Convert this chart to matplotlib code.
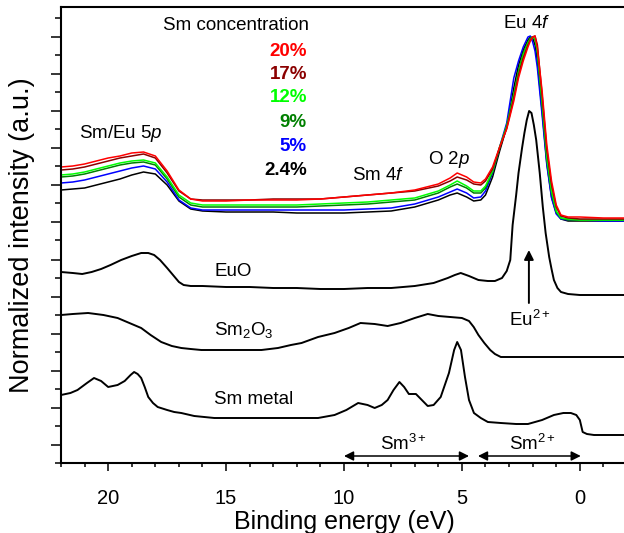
import matplotlib
matplotlib.use("Agg")
import matplotlib.pyplot as plt
from matplotlib.ticker import FixedLocator, MultipleLocator

plt.rcParams['font.family'] = ['Liberation Sans', 'DejaVu Sans']
plt.rcParams['mathtext.fontset'] = 'custom'
plt.rcParams['mathtext.rm'] = 'Liberation Sans'
plt.rcParams['mathtext.it'] = 'Liberation Sans:italic'
plt.rcParams['mathtext.bf'] = 'Liberation Sans:bold'
plt.rcParams['mathtext.default'] = 'regular'

# ---------------- data ----------------
top_x = [22, 21.5, 21, 20.5, 20, 19.5, 19, 18.5, 18, 17.5, 17, 16.5, 16, 15, 14, 13, 12, 11, 10, 9,
         8, 7, 6, 5.5, 5.2, 4.8, 4.5, 4.2, 4.0, 3.7, 3.4, 3.1, 2.8, 2.6, 2.4, 2.2, 2.1, 2.0, 1.9, 1.8,
         1.6, 1.4, 1.2, 1.0, 0.8, 0.5, 0, -1, -2]

sm20 = [296, 297, 299, 302, 305, 307, 310, 311, 307, 292, 273, 264, 262, 262, 263, 263, 263, 264, 266, 268,
        270, 273, 279, 285, 290, 286, 281, 280, 284, 296, 316, 334, 362, 385, 402, 416, 422, 426, 427, 415,
        372, 318, 282, 258, 248, 246, 246, 245, 245]
sm17 = [293, 294, 296, 299, 302, 305, 307, 309, 305, 290, 272, 264, 263, 263, 263, 264, 264, 264, 266, 268,
        270, 272, 277, 282, 286, 283, 279, 278, 282, 294, 315, 335, 365, 388, 405, 418, 423, 426, 427, 418,
        368, 313, 278, 256, 247, 245, 244, 244, 244]
sm12 = [288, 289, 291, 294, 297, 300, 302, 303, 300, 286, 268, 260, 258, 258, 258, 258, 258, 259, 260, 261,
        263, 265, 272, 278, 282, 277, 272, 272, 277, 292, 316, 337, 368, 390, 408, 420, 424, 426, 424, 412,
        362, 306, 272, 252, 245, 244, 243, 243, 243]
sm9 = [286, 287, 289, 292, 295, 298, 300, 301, 298, 284, 266, 258, 256, 256, 256, 256, 256, 257, 258, 259,
       261, 263, 270, 276, 279, 275, 270, 270, 275, 291, 315, 337, 369, 392, 410, 421, 425, 426, 423, 410,
       358, 303, 270, 251, 245, 243, 243, 243, 243]
sm5 = [280, 281, 283, 286, 289, 292, 295, 297, 294, 281, 263, 255, 253, 253, 253, 253, 253, 253, 253, 254,
       255, 259, 266, 271, 274, 270, 265, 266, 272, 290, 316, 340, 385, 402, 416, 426, 427, 421, 412, 395,
       348, 298, 265, 249, 244, 243, 243, 242, 242]
sm24 = [273, 274, 275, 278, 281, 284, 288, 291, 289, 278, 262, 254, 252, 251, 251, 251, 250, 250, 250, 251,
        252, 256, 263, 268, 270, 266, 262, 263, 268, 286, 312, 336, 375, 398, 413, 423, 426, 425, 418, 402,
        352, 300, 266, 250, 244, 242, 242, 242, 242]

conc_labels = ['20%', '17%', '12%', '9%', '5%', '2.4%']
conc_colors = ['#ff0000', '#8b0000', '#00ff00', '#008000', '#0000ff', '#000000']

euo_x = [22, 21.5, 21.1, 20.7, 20.3, 19.9, 19.45, 19.0, 18.6, 18.3, 18.05, 17.8, 17.5, 17.25, 17.0, 16.8,
         16.5, 16.0, 15, 14, 13, 12, 11, 10, 9, 8, 7, 6.2, 5.6, 5.3, 5.05, 4.7, 4.3, 3.9, 3.6, 3.3, 3.1,
         2.95, 2.85, 2.7, 2.6, 2.45, 2.35, 2.25, 2.15, 2.05, 1.95, 1.85, 1.7, 1.57, 1.45, 1.3, 1.2, 1.1,
         0.95, 0.8, 0.5, 0, -1, -2]
euo_y = [191, 190, 189, 191, 194, 198, 203, 207, 210, 210, 208, 203, 195, 188, 181, 178,
         177, 177, 176, 176, 175, 175, 174, 174, 175, 175, 177, 180, 185, 188, 190, 187, 183, 182, 182, 185, 192,
         203, 238, 268, 290, 315, 330, 343, 352, 350, 338, 323, 290, 256, 230, 206, 194, 183,
         175, 171, 169, 168, 168, 168]

sm2o3_x = [22, 21.5, 20.85, 20.2, 19.6, 19.1, 18.6, 18.2, 17.75, 17.3, 16.9, 16.5, 16.05, 15, 14, 13.5,
           12.8, 12.25, 11.8, 11.1, 10.4, 9.8, 9.3, 8.7, 8.15, 7.6, 7.0, 6.45, 6.0, 5.5, 5.0, 4.7, 4.5,
           4.3, 4.05, 3.8, 3.6, 3.35, 3.0, 2, 1, 0, -1, -2]
sm2o3_y = [148, 149, 150, 148, 145, 140, 135, 128, 121, 117, 115, 114, 113, 113, 113, 113,
           115, 118, 120, 126, 130, 135, 140, 139, 137, 140, 145, 149, 147, 146, 145, 142, 136,
           128, 120, 113, 109, 106, 106, 106, 106, 106, 106, 106]

smm_x = [22, 21.6, 21.3, 20.9, 20.6, 20.3, 20.0, 19.6, 19.3, 19.05, 18.9, 18.75, 18.6, 18.45, 18.3, 18.1,
         17.9, 17.5, 17.2, 16.9, 16.35, 15.5, 14, 12, 11.1, 10.4, 9.9, 9.4, 9.0, 8.7, 8.4, 8.15, 7.9,
         7.65, 7.45, 7.25, 6.95, 6.7, 6.45, 6.2, 5.9, 5.55, 5.33, 5.2, 5.04, 4.87, 4.7, 4.49, 4.2, 3.9,
         3.35, 2.7, 2.2, 1.6, 1.1, 0.7, 0.38, 0.15, 0.0, -0.12, -0.3, -0.6, -1, -2]
smm_y = [68, 70, 73, 80, 85, 82, 76, 78, 82, 88, 91, 89, 85, 76, 66, 60,
         56, 53, 51, 50, 47, 45, 45, 45, 45, 48, 53, 60, 58, 55, 58, 63, 73,
         81, 76, 69, 69, 63, 57, 58, 66, 90, 113, 121, 113, 86, 63, 50, 45, 41,
         40, 39, 39, 43, 48, 50, 50, 48, 43, 31, 29, 28, 28, 28]

# ---------------- figure ----------------
fig = plt.figure(figsize=(6.24, 5.33), dpi=100)
ax = fig.add_axes([61 / 624, 70 / 533, 566 / 624, 456 / 533])

top_series = [sm20, sm17, sm12, sm9, sm5, sm24]
for ys, col in reversed(list(zip(top_series, conc_colors))):
    ax.plot(top_x, ys, color=col, lw=1.1)

for xs, ys in [(euo_x, euo_y), (sm2o3_x, sm2o3_y), (smm_x, smm_y)]:
    ax.plot(xs, ys, color='black', lw=1.4)

ax.set_xlim(22, -2)
ax.set_ylim(0, 456)

ax.xaxis.set_major_locator(FixedLocator([20, 15, 10, 5, 0]))
ax.xaxis.set_minor_locator(MultipleLocator(1))
ax.yaxis.set_major_locator(FixedLocator([18 + 37.1 * k for k in range(12)]))
ax.yaxis.set_minor_locator(FixedLocator([37.1 * k for k in range(13)]))
ax.set_yticklabels([])

ax.tick_params(axis='x', which='major', direction='out', length=5.5, width=1.1, labelsize=14.5, pad=13)
ax.tick_params(axis='x', which='minor', direction='out', length=3.2, width=1.1)
ax.tick_params(axis='y', which='major', direction='out', length=7.2, width=1.1)
ax.tick_params(axis='y', which='minor', direction='out', length=4.3, width=1.1)
ax.tick_params(top=False, right=False, which='both')
for sp in ax.spines.values():
    sp.set_linewidth(1.5)

ax.set_xlabel('Binding energy (eV)', fontsize=18, labelpad=2)
ax.set_ylabel('Normalized intensity (a.u.)', fontsize=19.5, labelpad=8)

fs = 13.5
ax.text(14.58, 437, 'Sm concentration', fontsize=fs, ha='center', va='center')
for lab, col, yy in zip(conc_labels, conc_colors, [412, 388.5, 365, 340.5, 316.5, 292.5]):
    ax.text(11.57, yy, lab, fontsize=fs, ha='right', va='center', color=col, fontweight='bold')

ax.text(19.45, 330, 'Sm/Eu 5$\\it{p}$', fontsize=fs, ha='center', va='center')
ax.text(8.56, 288, 'Sm 4$\\it{f}$', fontsize=fs, ha='center', va='center')
ax.text(5.55, 304, 'O 2$\\it{p}$', fontsize=fs, ha='center', va='center')
ax.text(2.25, 439, 'Eu 4$\\it{f}$', fontsize=fs, ha='center', va='center')
ax.text(15.5, 191.5, 'EuO', fontsize=fs, ha='left', va='center')
ax.text(15.5, 133, 'Sm$_2$O$_3$', fontsize=fs, ha='left', va='center')
ax.text(15.5, 63, 'Sm metal', fontsize=fs, ha='left', va='center')
ax.text(2.12, 143, 'Eu$^{2+}$', fontsize=fs, ha='center', va='center')
ax.text(7.46, 19, 'Sm$^{3+}$', fontsize=fs, ha='center', va='center')
ax.text(1.99, 19, 'Sm$^{2+}$', fontsize=fs, ha='center', va='center')

ax.annotate('', xy=(2.16, 213), xytext=(2.16, 160),
            arrowprops=dict(arrowstyle='-|>', color='black', lw=1.4, mutation_scale=14,
                            shrinkA=0, shrinkB=0))
ax.annotate('', xy=(4.7, 7), xytext=(10.0, 7),
            arrowprops=dict(arrowstyle='<|-|>', color='black', lw=1.1, mutation_scale=14,
                            shrinkA=0, shrinkB=0))
ax.annotate('', xy=(-0.04, 7), xytext=(4.32, 7),
            arrowprops=dict(arrowstyle='<|-|>', color='black', lw=1.1, mutation_scale=14,
                            shrinkA=0, shrinkB=0))

fig.savefig('out.png', dpi=100)
